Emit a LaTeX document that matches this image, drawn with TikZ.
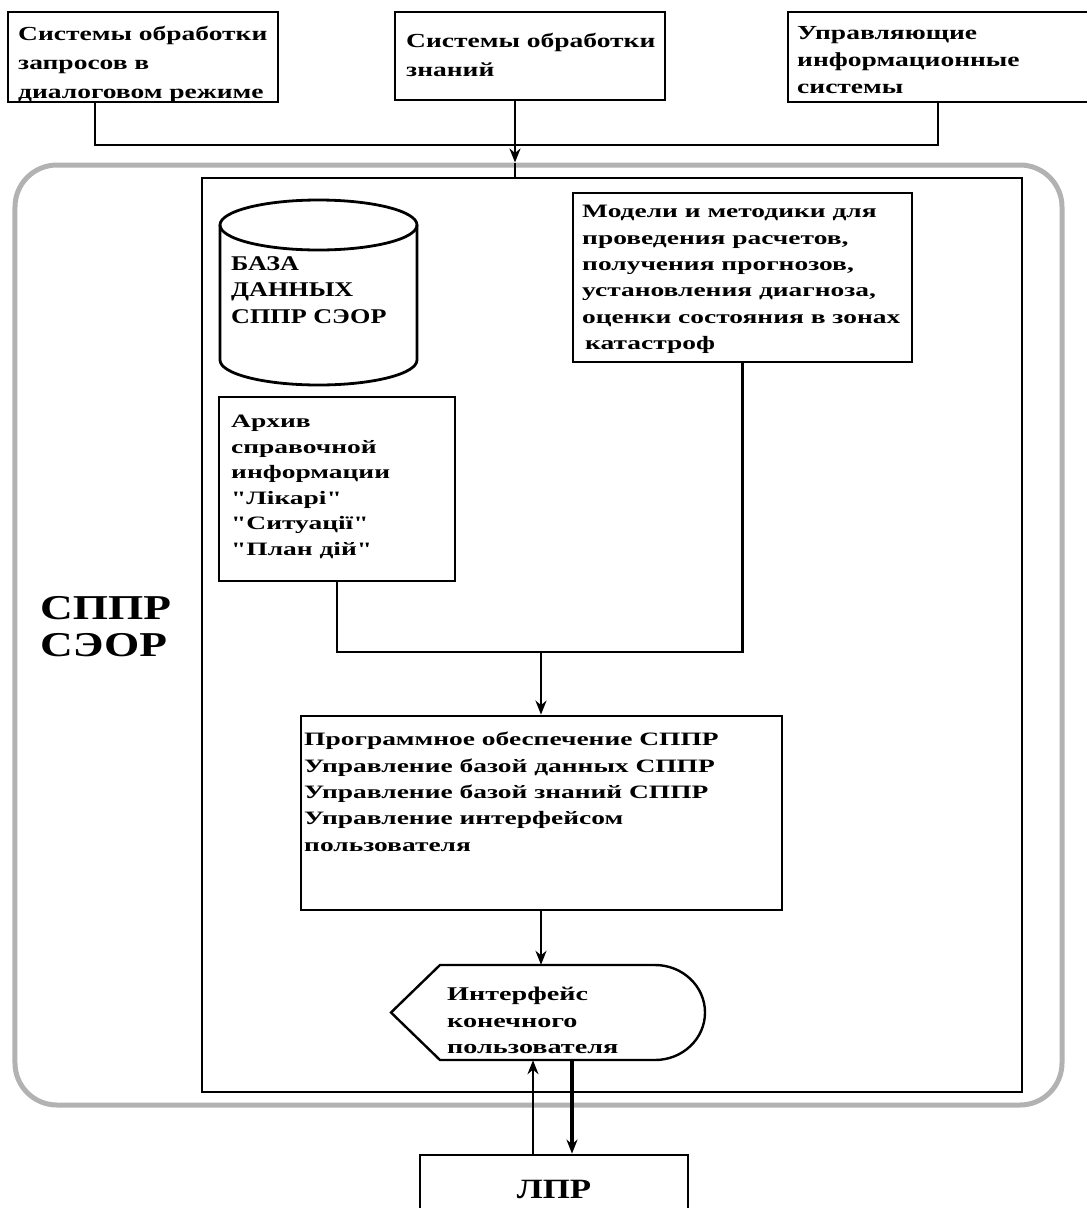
\documentclass[tikz,border=0pt]{standalone}
\usepackage{fontspec}
\setmainfont{Liberation Serif}
\newfontfamily\topfont[FakeStretch=1.38]{Liberation Serif}
\newfontfamily\wfont[FakeStretch=1.45]{Liberation Serif}
\newfontfamily\capfont[FakeStretch=1.25]{Liberation Serif}
\newfontfamily\bigfont[FakeStretch=1.3]{Liberation Serif}
\usetikzlibrary{arrows.meta,calc}
\begin{document}
\begin{tikzpicture}[x=1bp,y=-1bp,
  frame/.style={draw=black,line width=2.8bp,rectangle,inner sep=0},
  link/.style={draw=black,line width=2.4bp},
  tip/.style={-{Stealth[length=14bp,width=11bp]}},
  toptext/.style={font=\topfont\bfseries\fontsize{20}{29}\selectfont,align=left,anchor=north west,inner sep=0},
  bodytext/.style={font=\wfont\bfseries\fontsize{19}{26.5}\selectfont,align=left,anchor=north west,inner sep=0},
  captext/.style={font=\capfont\bfseries\fontsize{21}{27}\selectfont,align=left,anchor=north west,inner sep=0}]
\useasboundingbox (0,0) rectangle (1087,1208);

% sources at the top
\node[frame,minimum width=270bp,minimum height=90bp] (b1) at (143,57) {};
\node[frame,minimum width=270bp,minimum height=88bp] (b2) at (530,56) {};
\node[frame,minimum width=307bp,minimum height=90bp] (b3) at (941.5,57) {};
\node[toptext] (t1) at (18,26) {Системы обработки\\запросов в\\диалоговом режиме};
\node[toptext] (t2) at (406,33) {Системы обработки\\знаний};
\node[toptext,font=\topfont\bfseries\fontsize{20}{27}\selectfont] (t3) at (797,26) {Управляющие\\информационные\\системы};

% DSS frame and the inner block
\node[draw=black!30,line width=5bp,rounded corners=42bp,minimum width=1047bp,minimum height=940bp,inner sep=0] (outer) at (538.5,635) {};
\node[draw=black,line width=2.2bp,minimum width=820bp,minimum height=914bp,inner sep=0] (inner) at (612,635) {};

% merging of the three sources
\coordinate (j1) at (95,145);
\coordinate (j2) at (515,145);
\coordinate (j3) at (938,145);
\draw[link] (b1.south -| j1) -- (j1) -- (j3) -- (b3.south -| j3);
\draw[link,tip] (b2.south -| j2) -- (outer.north -| j2);
\draw[link] (outer.north -| j2) -- (inner.north -| j2);

% database cylinder
\draw[line width=2.8bp,fill=white] (220,225) -- (220,360) arc[start angle=180,end angle=0,x radius=98.5,y radius=25] -- (417,225);
\draw[line width=2.8bp] (318.5,225) ellipse [x radius=98.5,y radius=25];
\node[captext] (db) at (231,256) {БАЗА\\ДАННЫХ\\СППР СЭОР};

% archive and models
\node[draw=black,line width=2.4bp,minimum width=236bp,minimum height=184bp,inner sep=0] (arch) at (337,489) {};
\node[bodytext,font=\wfont\bfseries\fontsize{19}{25.6}\selectfont] (tarch) at (231,415) {Архив\\справочной\\информации\\"Лікарі"\\"Ситуації"\\"План дій"};
\node[frame,minimum width=339bp,minimum height=169bp] (mod) at (742.5,277.5) {};
\node[bodytext] (tmod) at (582,205) {Модели и методики для\\проведения расчетов,\\получения прогнозов,\\установления диагноза,\\оценки состояния в зонах\\\hspace*{3bp}катастроф};

% software block
\node[frame,minimum width=481bp,minimum height=194bp] (prog) at (541.5,813) {};
\node[bodytext] (tprog) at (304,732) {Программное обеспечение СППР\\Управление базой данных СППР\\Управление базой знаний СППР\\Управление интерфейсом\\пользователя};

\coordinate (jm) at (541,652);
\draw[link] (arch.south) |- (jm) -| (mod.south);
\draw[link,tip] (jm) -- (prog.north -| jm);

% user interface (display symbol)
\node[minimum width=315bp,minimum height=95bp,inner sep=0] (iface) at (548,1012.5) {};
\draw[line width=2.4bp] (440,965) -- (655,965) arc[start angle=-90,end angle=90,x radius=50,y radius=47.5] -- (440,1060) -- (391,1012.5) -- cycle;
\node[bodytext,font=\wfont\bfseries\fontsize{19.5}{26.5}\selectfont] (tif) at (447,987) {Интерфейс\\конечного\\пользователя};
\draw[link,tip] (prog.south -| jm) -- (iface.north -| jm);

% decision maker
\node[frame,minimum width=268bp,minimum height=70bp] (lpr) at (554,1190) {};
\node[font=\capfont\bfseries\fontsize{28}{30}\selectfont,inner sep=0] (tlpr) at (554,1189) {ЛПР};
\coordinate (up) at (533,0);
\coordinate (dn) at (572,0);
\draw[link,line width=2.2bp,tip] (lpr.north -| up) -- (iface.south -| up);
\draw[link,line width=4.5bp,tip] (iface.south -| dn) -- (lpr.north -| dn);

% system title
\node[font=\bigfont\bfseries\fontsize{35}{37}\selectfont,align=left,anchor=north west,inner sep=0] (sys) at (40,596) {СППР\\СЭОР};
\end{tikzpicture}
\end{document}
